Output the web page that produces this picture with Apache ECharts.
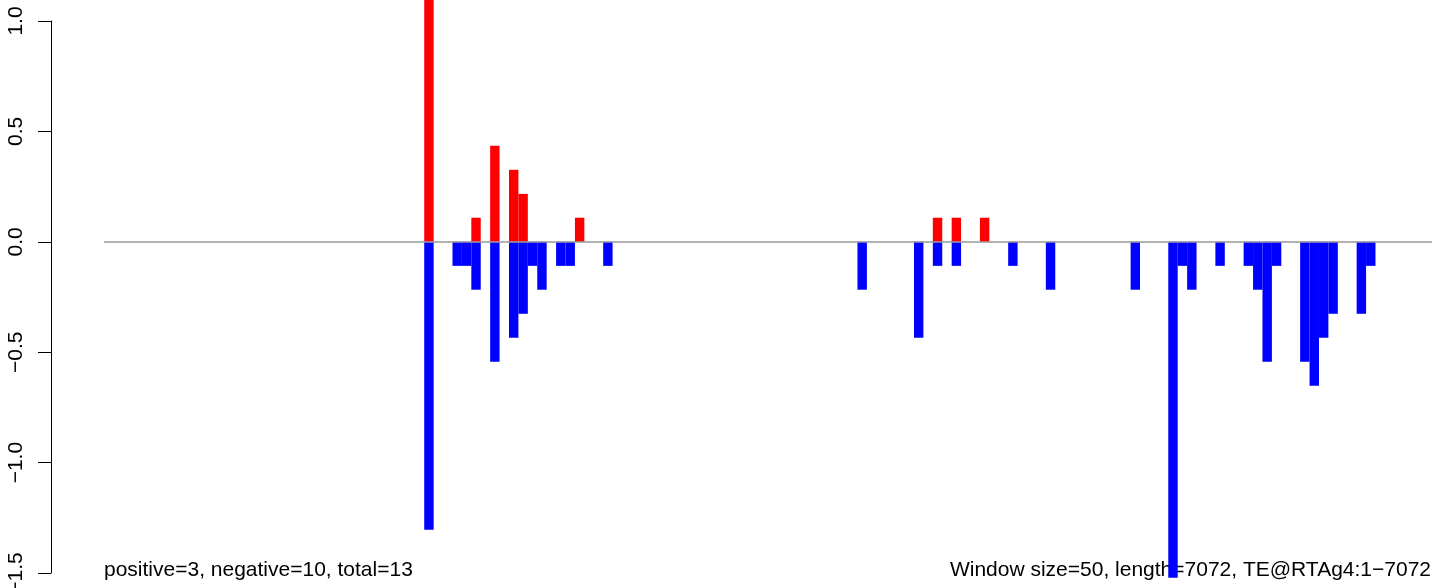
<!DOCTYPE html>
<html>
<head>
<meta charset="utf-8">
<script src="https://cdn.jsdelivr.net/npm/echarts@6/dist/echarts.min.js"></script>
<style>
html,body{margin:0;padding:0;background:#fff;}
#chart{width:1444px;height:588px;}
</style>
</head>
<body>
<div id="chart"></div>
<script>
// Window settings
const windowSize = 50;
const seqLength = 7072;
const nWindows = 141;

// Positive (red) bars: window index and value
const posIdx = [34, 39, 41, 43, 44, 50, 88, 90, 93];
const posVal = [1.196, 0.109, 0.435, 0.326, 0.217, 0.109, 0.109, 0.109, 0.109];

// Negative (blue) bars: window index and value
const negIdx = [34, 37, 38, 39, 41, 43, 44, 45, 46, 48, 49, 53,
                80, 86, 88, 90, 96, 100,
                109, 113, 114, 115, 118, 121, 122, 123, 124, 127, 128, 129, 130, 133, 134];
const negVal = [-1.304, -0.109, -0.109, -0.217, -0.543, -0.435, -0.326, -0.109, -0.217, -0.109, -0.109, -0.109,
                -0.217, -0.435, -0.109, -0.109, -0.109, -0.217,
                -0.217, -1.522, -0.109, -0.217, -0.109, -0.109, -0.217, -0.543, -0.109, -0.543, -0.652, -0.435, -0.326, -0.326, -0.109];

// Y tick labels
const yTicks = [-1.5, -1.0, -0.5, 0.0, 0.5, 1.0];

const leftText = 'positive=3, negative=10, total=13';
const rightText = 'Window size=50, length=7072, TE@RTAg4:1\u22127072';

// Build category/data arrays for the library
const categories = [];
for (let i = 0; i < nWindows; i++) categories.push(String(i * windowSize));
const posData = categories.map(() => '-');
const negData = categories.map(() => '-');
posIdx.forEach((k, j) => { posData[k] = posVal[j]; });
negIdx.forEach((k, j) => { negData[k] = negVal[j]; });

const FONT = '"Liberation Sans", Arial, Helvetica, sans-serif';
const FS = 21;

const chart = echarts.init(document.getElementById('chart'), null, {renderer: 'canvas'});
chart.setOption({
  animation: false,
  backgroundColor: '#ffffff',
  grid: {left: 104, right: 12, top: 21, bottom: 15, containLabel: false, outerBoundsMode: 'none'},
  xAxis: {
    type: 'category',
    data: categories,
    show: false,
    boundaryGap: true
  },
  yAxis: {
    type: 'value',
    min: -1.5,
    max: 1.0,
    interval: 0.5,
    offset: 53,
    splitLine: {show: false},
    axisLine: {show: true, lineStyle: {color: '#000', width: 1}},
    axisTick: {show: true, inside: false, length: 13, lineStyle: {color: '#000', width: 1}},
    axisLabel: {
      show: true,
      rotate: 90,
      margin: 24,
      color: '#000',
      fontFamily: FONT,
      fontSize: FS,
      hideOverlap: false,
      formatter: function (v) {
        const s = Number(v).toFixed(1);
        return s.replace('-', '\u2212');
      }
    }
  },
  series: [
    {
      type: 'bar',
      name: 'positive',
      data: posData,
      barWidth: '100%',
      barGap: '-100%',
      clip: false,
      itemStyle: {color: '#ff0000'},
      z: 5
    },
    {
      type: 'bar',
      name: 'negative',
      data: negData,
      barWidth: '100%',
      barGap: '-100%',
      clip: false,
      itemStyle: {color: '#0000ff'},
      z: 5,
      markLine: {
        silent: true,
        symbol: ['none', 'none'],
        label: {show: false},
        lineStyle: {color: '#999999', type: 'solid', width: 1.5},
        data: [{yAxis: 0}],
        z: 6
      }
    }
  ],
  graphic: [
    {
      type: 'text',
      x: 104,
      y: 570,
      z: 0,
      style: {text: leftText, fill: '#000', font: FS + 'px ' + FONT, textAlign: 'left', textVerticalAlign: 'middle'}
    },
    {
      type: 'text',
      x: 1431,
      y: 570,
      z: 0,
      style: {text: rightText, fill: '#000', font: FS + 'px ' + FONT, textAlign: 'right', textVerticalAlign: 'middle'}
    }
  ]
});
</script>
</body>
</html>
